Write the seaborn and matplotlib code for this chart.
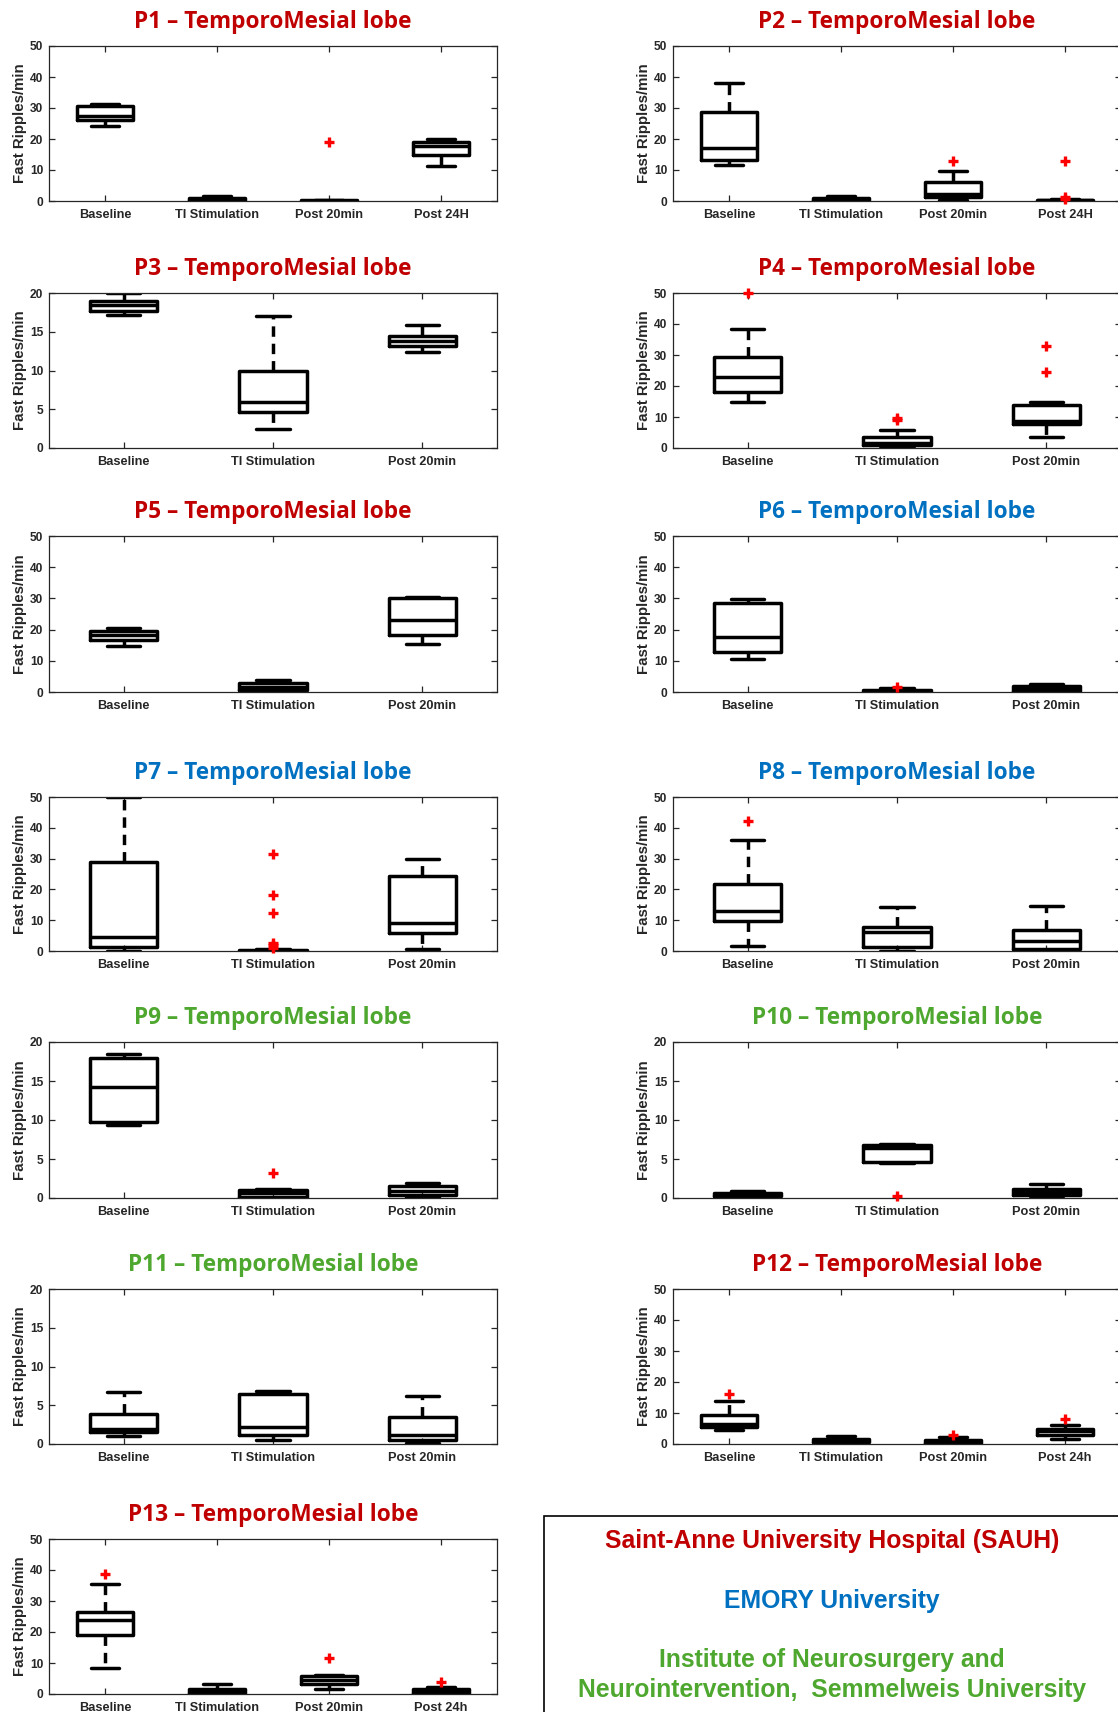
import numpy as np
import pandas as pd
import matplotlib
matplotlib.use("Agg")
import matplotlib.pyplot as plt
from matplotlib.patches import Rectangle
import seaborn as sns

# ---------------- data ----------------
COND4_H = ["Baseline", "TI Stimulation", "Post 20min", "Post 24H"]
COND4_h = ["Baseline", "TI Stimulation", "Post 20min", "Post 24h"]
COND3 = ["Baseline", "TI Stimulation", "Post 20min"]

# per condition: [lower whisker, Q1, median, Q3, upper whisker]
P1_stats = [[24.1, 26.2, 27.4, 30.6, 31.3], [0.0, 0.3, 0.6, 1.0, 1.7], [0.0, 0.05, 0.15, 0.3, 0.4], [11.3, 14.8, 17.8, 19.0, 20.0]]
P1_out = [[], [], [18.9], []]
P2_stats = [[11.7, 13.3, 17.2, 28.6, 38.0], [0.0, 0.2, 0.6, 1.0, 1.7], [0.3, 1.4, 2.3, 6.0, 9.8], [0.0, 0.05, 0.2, 0.4, 0.5]]
P2_out = [[], [], [13.0], [13.0, 1.3, 0.6]]
P3_stats = [[17.2, 17.7, 18.4, 19.0, 20.0], [2.4, 4.7, 6.0, 10.0, 17.0], [12.4, 13.1, 13.8, 14.5, 15.9]]
P3_out = [[], [], []]
P4_stats = [[15.0, 18.2, 23.0, 29.2, 38.3], [0.0, 0.9, 1.6, 3.6, 5.8], [3.5, 7.8, 8.7, 13.8, 15.0]]
P4_out = [[50.0], [9.1, 9.8], [32.9, 24.5]]
P5_stats = [[14.7, 16.7, 18.3, 19.7, 20.6], [0.0, 0.8, 1.6, 2.8, 3.7], [15.4, 18.4, 23.1, 30.0, 30.6]]
P5_out = [[], [], []]
P6_stats = [[10.7, 12.9, 17.5, 28.6, 29.8], [0.0, 0.05, 0.3, 0.6, 1.3], [0.0, 0.3, 0.9, 2.0, 2.6]]
P6_out = [[], [1.7], []]
P7_stats = [[0.0, 1.3, 4.4, 29.0, 50.0], [0.0, 0.05, 0.15, 0.3, 0.6], [0.8, 5.9, 9.0, 24.5, 30.0]]
P7_out = [[], [31.5, 18.1, 12.5, 2.7, 1.8, 1.0], []]
P8_stats = [[1.7, 9.6, 13.0, 21.9, 35.9], [0.0, 1.2, 6.2, 7.8, 14.2], [0.0, 0.6, 3.2, 6.7, 14.5]]
P8_out = [[42.2], [], []]
P9_stats = [[9.4, 9.75, 14.2, 17.9, 18.5], [0.0, 0.1, 0.7, 1.03, 1.2], [0.1, 0.35, 0.9, 1.55, 1.93]]
P9_out = [[], [3.2], []]
P10_stats = [[0.0, 0.2, 0.4, 0.6, 0.9], [4.55, 4.6, 6.4, 6.74, 6.87], [0.0, 0.4, 0.8, 1.2, 1.85]]
P10_out = [[], [0.25], []]
P11_stats = [[1.0, 1.5, 1.9, 3.85, 6.7], [0.56, 1.1, 2.2, 6.4, 6.85], [0.1, 0.47, 1.15, 3.5, 6.25]]
P11_out = [[], [], []]
P12_stats = [[4.6, 5.5, 6.6, 9.3, 14.0], [0.0, 0.5, 1.0, 1.5, 2.5], [0.0, 0.3, 0.8, 1.2, 2.3], [1.7, 3.0, 4.2, 5.0, 6.1]]
P12_out = [[16.1], [], [3.0], [8.0]]
P13_stats = [[8.4, 18.9, 23.9, 26.3, 35.5], [0.0, 0.2, 0.8, 1.6, 3.2], [1.6, 3.2, 4.6, 5.7, 6.0], [0.0, 0.4, 1.0, 1.6, 2.3]]
P13_out = [[38.6], [], [11.6], [3.8]]

TITLES = ["P%d \u2013 TemporoMesial lobe" % i for i in range(1, 14)]
YMAX = [50, 50, 20, 50, 50, 50, 50, 50, 20, 20, 20, 50, 50]
LEGEND_LINES = ["Saint-Anne University Hospital (SAUH)", "EMORY University",
                "Institute of Neurosurgery and", "Neurointervention,  Semmelweis University"]

# ---------------- style ----------------
RED, BLUE, GREEN = "#C00000", "#0070C0", "#4EA72E"
TCOL = [RED, RED, RED, RED, RED, BLUE, BLUE, BLUE, GREEN, GREEN, GREEN, RED, RED]
INK = "#262626"

sns.set_theme(style="white")
plt.rcParams["font.family"] = ["Liberation Sans", "DejaVu Sans"]
plt.rcParams["font.weight"] = "bold"
plt.rcParams["axes.labelweight"] = "bold"

W, H = 1118, 1712
fig = plt.figure(figsize=(W / 100, H / 100), dpi=100)
fig.patch.set_facecolor("white")

LEFT_X, RIGHT_X, AX_W = 49, 673, 448
ROWS = [(46, 201), (293, 448), (536, 692), (797, 951), (1042, 1198), (1289, 1444), (1539, 1694)]

panels = [
    (P1_stats, P1_out, COND4_H), (P2_stats, P2_out, COND4_H),
    (P3_stats, P3_out, COND3), (P4_stats, P4_out, COND3),
    (P5_stats, P5_out, COND3), (P6_stats, P6_out, COND3),
    (P7_stats, P7_out, COND3), (P8_stats, P8_out, COND3),
    (P9_stats, P9_out, COND3), (P10_stats, P10_out, COND3),
    (P11_stats, P11_out, COND3), (P12_stats, P12_out, COND4_h),
    (P13_stats, P13_out, COND4_h),
]

for i, (stats, outs, cats) in enumerate(panels):
    row, col = divmod(i, 2)
    top, bot = ROWS[row]
    x0 = LEFT_X if col == 0 else RIGHT_X
    ax = fig.add_axes([x0 / W, 1 - bot / H, AX_W / W, (bot - top) / H])
    ax.set_facecolor("white")

    rows = [(c, v) for c, s in zip(cats, stats) for v in s]
    df = pd.DataFrame(rows, columns=["cond", "val"])
    width = 0.5 if len(cats) == 4 else 0.45
    sns.boxplot(data=df, x="cond", y="val", order=cats, ax=ax, whis=(0, 100),
                width=width, fill=False, color="black", linecolor="black",
                linewidth=2.5, whiskerprops=dict(linestyle=(0, (3, 2))))

    orows = [(c, v) for c, o in zip(cats, outs) for v in o]
    if orows:
        odf = pd.DataFrame(orows, columns=["cond", "val"])
        sns.stripplot(data=odf, x="cond", y="val", order=cats, ax=ax, jitter=False,
                      marker="+", color="#FF0000", size=7, linewidth=2.4,
                      zorder=6, clip_on=False)

    ymax = YMAX[i]
    ax.set_ylim(0, ymax)
    ax.set_yticks(np.arange(0, ymax + 1, 10 if ymax == 50 else 5))
    ax.set_xlim(-0.5, len(cats) - 0.5)
    ax.set_xlabel("")
    ax.set_ylabel("Fast Ripples/min", fontsize=10.8, fontweight="bold", color=INK)
    ax.yaxis.set_label_coords(-22 / AX_W, 0.5)
    for sp in ax.spines.values():
        sp.set_visible(True)
        sp.set_color(INK)
        sp.set_linewidth(0.9)
    ax.tick_params(axis="both", which="both", direction="in", top=True, right=True,
                   bottom=True, left=True, length=4, width=0.9, color=INK, labelcolor=INK)
    ax.tick_params(axis="x", labelsize=9.2, pad=6)
    ax.tick_params(axis="y", labelsize=8.6, pad=4)
    for lab in ax.get_xticklabels() + ax.get_yticklabels():
        lab.set_fontweight("bold")
    ax.grid(False)

    ax.text(0.5, 1 + 24 / (bot - top), TITLES[i], transform=ax.transAxes,
            ha="center", va="center", fontsize=16.3, fontweight="bold",
            color=TCOL[i], family=["Open Sans", "DejaVu Sans"])

# Legend / affiliations box
fig.add_artist(Rectangle((544 / W, -0.01), 0.6, 0.01 + (H - 1516) / H,
                         transform=fig.transFigure, fill=False,
                         edgecolor="black", linewidth=1.2))
LEG_Y = [1541, 1601, 1660, 1690]
LEG_C = [RED, BLUE, GREEN, GREEN]
for txt, yy, cc in zip(LEGEND_LINES, LEG_Y, LEG_C):
    fig.text(832 / W, 1 - yy / H, txt, ha="center", va="center",
             fontsize=17.8, fontweight="bold", color=cc)

fig.savefig("out.png", dpi=100, facecolor="white")
